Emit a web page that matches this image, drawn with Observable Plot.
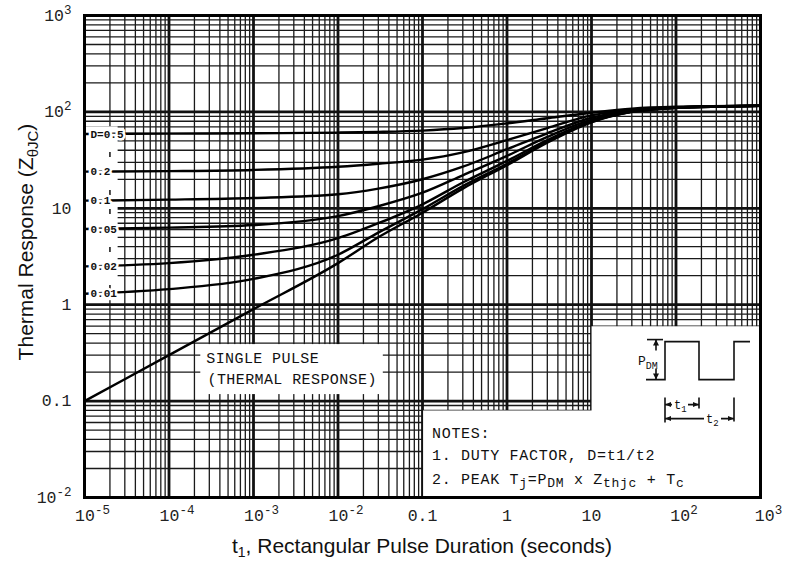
<!DOCTYPE html>
<html><head><meta charset="utf-8">
<script src="https://cdn.jsdelivr.net/npm/d3@7"></script>
<script src="https://cdn.jsdelivr.net/npm/@observablehq/plot@0.6"></script>
<style>
body{margin:0;background:#fff}
#chart{width:788px;height:563px}
</style></head><body><div id="chart"></div>
<script>
// ---- data ----
const pulseDurations = [1e-5, 1e-4, 1e-3, 1e-2, 3e-2, 0.1, 0.3, 1, 3, 10, 30, 100, 1000];
const singlePulse = [0.1, 0.3, 0.9, 2.7, 5, 9, 16, 28, 48, 78, 100, 110, 116];
const duty001 = [1.3, 1.45, 1.85, 3.3, 5.6, 9.8, 17, 29, 49, 79, 100, 110, 116];
const duty002 = [2.5, 2.7, 3.3, 4.9, 7, 11, 18.5, 31, 51, 80, 101, 110, 116];
const duty005 = [6.1, 6.3, 6.7, 8.3, 10.5, 14.5, 22, 35, 55, 83, 102, 111, 116];
const duty01 = [12, 12.3, 12.8, 14, 16, 20, 27, 41, 60, 87, 103, 111, 116];
const duty02 = [24, 24.3, 25, 27, 29, 32, 38, 51, 68, 92, 105, 112, 116];
const duty05 = [59, 59.5, 60, 61, 62, 64, 68, 76, 86, 98, 108, 113, 116];
const dutyLabels = ["D=0.5", "0.2", "0.1", "0.05", "0.02", "0.01"];
const dutySeries = [duty05, duty02, duty01, duty005, duty002, duty001];

const xTickValues = [1e-5, 1e-4, 1e-3, 1e-2, 0.1, 1, 10, 100, 1000];
const xTickLabels = ["10⁻⁵", "10⁻⁴", "10⁻³", "10⁻²", "0.1", "1", "10", "10²", "10³"];
const yTickValues = [1e-2, 0.1, 1, 10, 100, 1000];
const yTickLabels = ["10⁻²", "0.1", "1", "10", "10²", "10³"];

// blank (white) annotation areas, in data units
const blankAreas = [
  {x1: 10.15, x2: 1000, y1: 0.01, y2: 0.59},
  {x1: 0.103, x2: 1000, y1: 0.01, y2: 0.079},
  {x1: 1e-5, x2: 2.5e-5, y1: 1.1, y2: 70}
];

// ---- build tables ----
const rows = [];
[["single", singlePulse], ...dutyLabels.map((l, i) => [l, dutySeries[i]])].forEach(([name, vals]) =>
  vals.forEach((v, i) => rows.push({t: pulseDurations[i], z: v, s: name})));
const labelRows = dutyLabels.map((l, i) => ({label: l, t: pulseDurations[0], z: dutySeries[i][0]}));

const minorX = [], majorX = [], minorY = [], majorY = [];
for (let e = -5; e <= 3; e++) { majorX.push(Math.pow(10, e)); if (e < 3) for (let k = 2; k <= 9; k++) minorX.push(k * Math.pow(10, e)); }
for (let e = -2; e <= 3; e++) { majorY.push(Math.pow(10, e)); if (e < 3) for (let k = 2; k <= 9; k++) minorY.push(k * Math.pow(10, e)); }

const idx = (vals, d) => vals.findIndex(v => Math.abs(Math.log10(v) - Math.log10(d)) < 1e-6);
const fmtX = d => xTickLabels[idx(xTickValues, d)];
const fmtY = d => yTickLabels[idx(yTickValues, d)];
const supRe = /[⁻²³⁴⁵]/;
const supX = xTickValues.filter(d => supRe.test(fmtX(d)));
const plainX = xTickValues.filter(d => !supRe.test(fmtX(d)));

const mono = "'Liberation Mono','DejaVu Sans Mono',monospace";
const plot = Plot.plot({
  width: 788, height: 563,
  marginLeft: 84, marginRight: 28, marginTop: 15, marginBottom: 66,
  x: {type: "log", domain: [1e-5, 1e3], label: null},
  y: {type: "log", domain: [1e-2, 1e3], label: null},
  style: {fontFamily: mono, fontSize: "16px", background: "white", color: "#111"},
  marks: [
    Plot.ruleX(minorX, {stroke: "#1a1a1a", strokeWidth: 1.3}),
    Plot.ruleY(minorY, {stroke: "#1a1a1a", strokeWidth: 1.3}),
    Plot.ruleX(majorX, {stroke: "#111", strokeWidth: 2.8}),
    Plot.ruleY(majorY, {stroke: "#111", strokeWidth: 2.8}),
    Plot.rect(blankAreas, {x1: "x1", x2: "x2", y1: "y1", y2: "y2", fill: "white"}),
    Plot.ruleX([2e-5], {y1: 1.4, y2: 55, stroke: "#111", strokeWidth: 1.5, strokeDasharray: "5 14"}),
    Plot.line(rows, {x: "t", y: "z", z: "s", stroke: "#000", strokeWidth: 2.4, curve: "monotone-x"}),
    Plot.text(labelRows, {x: "t", y: "z", text: "label", textAnchor: "start", dx: 6, fontSize: 11, fontWeight: "bold",
      fill: "#111", stroke: "white", strokeWidth: 5, fontFamily: mono}),
    Plot.frame({stroke: "#000", strokeWidth: 3}),
    Plot.axisX(plainX, {tickSize: 0, tickPadding: 12, tickFormat: fmtX, label: null, fill: "#222", fontSize: 16.5}),
    Plot.axisX(supX, {tickSize: 0, tickPadding: 12, tickFormat: fmtX, label: null, fill: "#222", fontSize: 16.5, dx: 8}),
    Plot.axisY(yTickValues, {tickSize: 0, tickPadding: 13, tickFormat: fmtY, label: null, fill: "#222", fontSize: 16.5})
  ]
});
document.getElementById("chart").appendChild(plot);
const svg = d3.select(plot);

// turn unicode superscripts in tick labels into larger raised tspans
const supMap = {"⁻": "-", "²": "2", "³": "3", "⁴": "4", "⁵": "5"};
svg.selectAll("g[aria-label$='tick label'] text").each(function () {
  const s = this.textContent;
  if (!supRe.test(s)) return;
  const base = s.replace(/[⁻²³⁴⁵]/g, ""), sup = s.replace(/[^⁻²³⁴⁵]/g, "").split("").map(c => supMap[c]).join("");
  const t = d3.select(this); t.text(null);
  t.append("tspan").text(base);
  t.append("tspan").attr("font-size", 12.5).attr("dy", "-0.55em").text(sup);
});

// ---- annotations positioned through the plot's scales ----
const sx = plot.scale("x"), sy = plot.scale("y");
const X = v => sx.apply(v), Y = v => sy.apply(v);

// single pulse note with white box
const sp = svg.append("text").attr("font-family", mono).attr("font-size", 15).attr("fill", "#111")
  .attr("text-anchor", "start").attr("letter-spacing", 0.4);
sp.append("tspan").attr("x", X(2.8e-4)).attr("y", Y(0.245)).text("SINGLE PULSE");
sp.append("tspan").attr("x", X(2.9e-4)).attr("dy", 21).text("(THERMAL RESPONSE)");
const bb = sp.node().getBBox();
svg.insert("rect", "g[aria-label='line']").attr("x", bb.x - 6).attr("y", bb.y - 7)
  .attr("width", bb.width + 12).attr("height", bb.height + 12).attr("fill", "white");

// notes
const nx = X(0.1) + 10, ny = Y(0.08);
const notes = svg.append("g").attr("font-family", mono).attr("font-size", 15).attr("fill", "#111")
  .attr("text-anchor", "start").attr("letter-spacing", 0.7);
notes.append("text").attr("x", nx).attr("y", ny + 28).text("NOTES:");
notes.append("text").attr("x", nx).attr("y", ny + 50).text("1. DUTY FACTOR, D=t1/t2");
const n2 = notes.append("text").attr("x", nx).attr("y", ny + 74);
const seg = (t, sub) => { const s = n2.append("tspan").text(t); if (sub) s.attr("font-size", 13).attr("baseline-shift", "-25%"); };
seg("2. PEAK T"); seg("j", 1); seg("=P"); seg("DM", 1); seg(" x Z"); seg("thjc", 1); seg(" + T"); seg("c", 1);

// inset pulse diagram
const g = svg.append("g").attr("transform", `translate(${X(10)},${Y(0.6)})`)
  .attr("stroke", "#111").attr("fill", "none").attr("stroke-width", 1.6);
g.append("path").attr("d", "M55,54 H74 V16 H108 V54 H143 V16 H159");
g.append("path").attr("d", "M56,14 H72");
g.append("path").attr("d", "M65,14 V25 M65,43 V54");
const tri = d => g.append("path").attr("d", d).attr("fill", "#111").attr("stroke", "none");
tri("M65,14 L62,20 L68,20 Z"); tri("M65,54 L62,48 L68,48 Z");
g.append("path").attr("d", "M74,72 V97 M108,72 V83 M143,72 V96");
g.append("path").attr("d", "M74,79 H81 M97,79 H108 M74,93 H113 M130,93 H143");
tri("M74,79 L80,76.5 L80,81.5 Z"); tri("M108,79 L102,76.5 L102,81.5 Z");
tri("M74,93 L80,90.5 L80,95.5 Z"); tri("M143,93 L137,90.5 L137,95.5 Z");
const lab = (x, y, t, sub, fs) => {
  const tx = svg.append("text").attr("x", X(10) + x).attr("y", Y(0.6) + y).attr("text-anchor", "start")
    .attr("font-family", mono).attr("font-size", fs).attr("fill", "#111");
  tx.append("tspan").text(t);
  tx.append("tspan").attr("font-size", fs - 3).attr("baseline-shift", "-35%").text(sub);
};
lab(47, 39, "P", "DM", 13);
lab(83, 83, "t", "1", 12);
lab(115, 97, "t", "2", 12);

// axis titles
const sans = "'Liberation Sans',Arial,sans-serif";
const yt = svg.append("text").attr("transform", `translate(33,${(Y(1e-2) + Y(1e3)) / 2 - 14}) rotate(-90)`)
  .attr("text-anchor", "middle").attr("font-family", sans).attr("font-size", 21).attr("fill", "#111");
yt.append("tspan").text("Thermal Response (Z");
yt.append("tspan").attr("font-size", 15).attr("baseline-shift", "-30%").text("θJC");
yt.append("tspan").text(")");
const xt = svg.append("text").attr("x", (X(1e-5) + X(1e3)) / 2).attr("y", 553)
  .attr("text-anchor", "middle").attr("font-family", sans).attr("font-size", 21).attr("fill", "#111");
xt.append("tspan").text("t");
xt.append("tspan").attr("font-size", 14).attr("baseline-shift", "-30%").text("1");
xt.append("tspan").text(", Rectangular Pulse Duration (seconds)");
</script></body></html>
